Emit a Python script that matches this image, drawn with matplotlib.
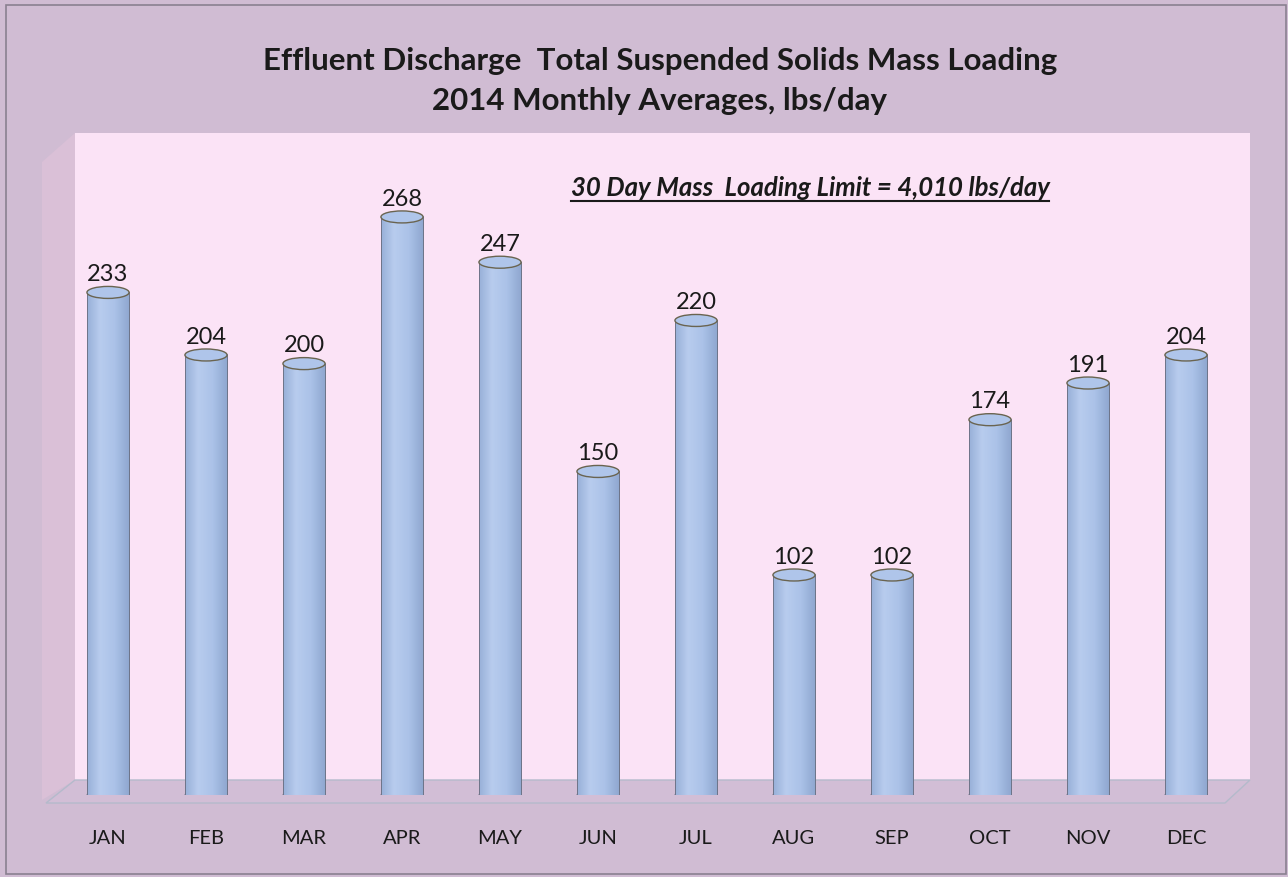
import numpy as np
import matplotlib
matplotlib.use("Agg")
import matplotlib.pyplot as plt
from matplotlib.patches import Polygon, Rectangle, Ellipse
from matplotlib.colors import LinearSegmentedColormap
from matplotlib.lines import Line2D

months = ["JAN", "FEB", "MAR", "APR", "MAY", "JUN", "JUL", "AUG", "SEP", "OCT", "NOV", "DEC"]
values = [233, 204, 200, 268, 247, 150, 220, 102, 102, 174, 191, 204]
title_lines = ["Effluent Discharge  Total Suspended Solids Mass Loading",
               "2014 Monthly Averages, lbs/day"]
limit_text = "30 Day Mass  Loading Limit = 4,010 lbs/day"

W, H = 1288, 877
fig = plt.figure(figsize=(W / 100, H / 100), dpi=100)
BG = "#D0BCD3"
fig.patch.set_facecolor(BG)

# decoration layer in pixel coordinates (y downward)
deco = fig.add_axes([0, 0, 1, 1])
deco.set_xlim(0, W)
deco.set_ylim(H, 0)
deco.axis("off")
deco.add_patch(Rectangle((6, 5), W - 8, H - 8, fill=False, ec="#8A8090", lw=1.2))
# side wall
deco.add_patch(Polygon([(75, 133), (42, 162), (42, 800), (75, 780)], closed=True,
                       fc="#DAC0D7", ec="none"))
# back wall
deco.add_patch(Rectangle((75, 133), 1250 - 75, 780 - 133, fc="#FBE3F6", ec="none"))
# floor
deco.add_patch(Polygon([(75, 780), (1250, 780), (1225, 803), (46, 803)], closed=True,
                       fc="#D2BED6", ec="#B4BACB", lw=1.0))

for i, line in enumerate(title_lines):
    deco.text(660, 61 + i * 40, line, ha="center", va="center", fontsize=22.5,
              fontweight="bold", family="Lato", color="#1A1A1A")

lt = deco.text(810, 188, limit_text, ha="center", va="center", fontsize=18.5,
               fontweight="bold", style="italic", family="Lato", color="#1A1A1A")

# bar axes
px_per_unit = 2.157
base_px, top_px = 795, 130
left_px, right_px = 59, 1235
ax = fig.add_axes([left_px / W, (H - base_px) / H, (right_px - left_px) / W,
                   (base_px - top_px) / H])
ymax = (base_px - top_px) / px_per_unit
ax.set_xlim(-0.5, len(months) - 0.5)
ax.set_ylim(0, ymax)
ax.patch.set_alpha(0)
for s in ax.spines.values():
    s.set_visible(False)
ax.set_yticks([])
ax.set_xticks(range(len(months)))
ax.set_xticklabels(months, fontsize=14.5, family="Lato", color="#1A1A1A")
ax.tick_params(axis="x", length=0, pad=25)

bw = 0.43
eh = 12 / px_per_unit
cmap = LinearSegmentedColormap.from_list(
    "cyl", [(0, "#98B0D8"), (0.3, "#B8CCEE"), (0.65, "#ABC2E8"), (1, "#8EA6CF")])
grad = np.linspace(0, 1, 64).reshape(1, -1)

bars = ax.bar(range(len(months)), values, width=bw, color="none", ec="none")
for i, (b, v) in enumerate(zip(bars, values)):
    x0 = i - bw / 2
    # rounded base
    ax.add_patch(Ellipse((i, 0), bw, eh, fc="#A0B8DF", ec="#7A8090", lw=0.6, zorder=2))
    ax.imshow(grad, cmap=cmap, extent=[x0, x0 + bw, 0, v], aspect="auto",
              zorder=3, interpolation="bicubic")
    ax.plot([x0, x0], [0, v], color="#6E7488", lw=0.7, zorder=4)
    ax.plot([x0 + bw, x0 + bw], [0, v], color="#6E7488", lw=0.7, zorder=4)
    ax.add_patch(Ellipse((i, v), bw, eh, fc="#AFC5EA", ec="#6A6450", lw=1.0, zorder=5))
    ax.text(i, v + eh * 0.6, str(v), ha="center", va="bottom", fontsize=17,
            family="Lato", color="#1A1A1A", zorder=6)
ax.set_xlim(-0.5, len(months) - 0.5)
ax.set_ylim(0, ymax)

# underline for the limit annotation
fig.canvas.draw()
bb = lt.get_window_extent(renderer=fig.canvas.get_renderer())
inv = deco.transData.inverted()
(xa, ya), (xb, yb) = inv.transform([(bb.x0, bb.y0), (bb.x1, bb.y0)])
deco.add_line(Line2D([xa, xb], [ya + 1, yb + 1], color="#1A1A1A", lw=1.5))

fig.savefig("out.png", dpi=100, facecolor=fig.get_facecolor())
